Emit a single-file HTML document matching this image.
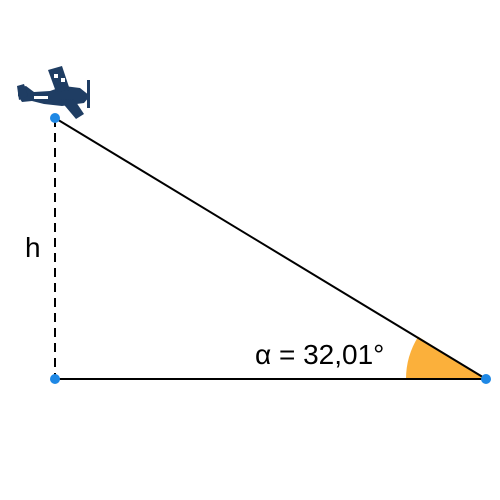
<!DOCTYPE html>
<html><head><meta charset="utf-8"><style>html,body{margin:0;padding:0;background:#fff}svg{display:block}</style></head>
<body>
<svg width="500" height="500" viewBox="0 0 500 500">
<path d="M486,379 L406,379 A80,80 0 0 1 418.2,336.6 Z" fill="#FBB03B"/>
<line x1="55" y1="118" x2="55" y2="379" stroke="#000" stroke-width="2" stroke-dasharray="9,6"/>
<line x1="55" y1="379" x2="486" y2="379" stroke="#000" stroke-width="2"/>
<line x1="55" y1="118" x2="486" y2="379" stroke="#000" stroke-width="2"/>
<circle cx="55" cy="118" r="5" fill="#1E88E5"/>
<circle cx="55" cy="379" r="5" fill="#1E88E5"/>
<circle cx="486" cy="379" r="5" fill="#1E88E5"/>
<text x="25" y="257" font-family="Liberation Sans, sans-serif" font-size="28">h</text>
<text x="255" y="364" font-family="Liberation Sans, sans-serif" font-size="28">α = 32,01°</text>
<g fill="#1F3D63">
<path d="M18,88 L26,86 L34,92 L50,91 L64,86 L80,88 L90,96 L84,103 L62,106 L44,104 L32,101 L22,102 L18,96 Z"/>
<path d="M48,70 L62,66 L70,90 L56,92 Z"/>
<path d="M60,100 L74,99 L84,114 L76,119 Z"/>
<path d="M17,86 L24,84 L28,96 L19,100 Z"/>
<rect x="87" y="80" width="3" height="28"/>
<path d="M54,74 l4,0 l0,4 l-4,0z M61,78 l4,0 l0,4 l-4,0z M34,96 l14,0 l0,3 l-14,0z" fill="#fff"/>
</g>
</svg>
</body></html>
